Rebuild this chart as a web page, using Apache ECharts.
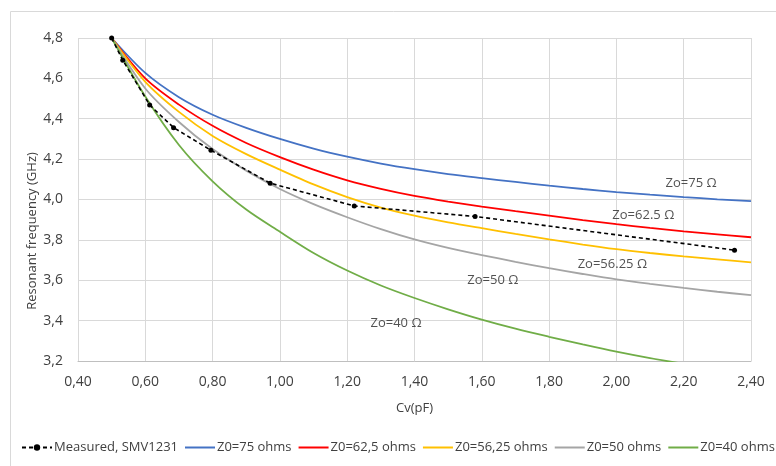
<!DOCTYPE html>
<html>
<head>
<meta charset="utf-8">
<script src="https://cdn.jsdelivr.net/npm/echarts@6/dist/echarts.min.js"></script>
<style>
  html, body { margin: 0; padding: 0; background: #fff; }
  #chart { width: 776px; height: 466px; }
</style>
</head>
<body>
<div id="chart"></div>
<script>
// Cv (pF) sample points for the model curves
const cvModel = [0.5, 0.6, 0.7, 0.8, 0.9, 1.0, 1.1, 1.2, 1.3, 1.4, 1.5, 1.6, 1.7, 1.8, 1.9, 2.0, 2.1, 2.2, 2.3, 2.4]
const z75 = [4.80, 4.627, 4.507, 4.42, 4.355, 4.30, 4.252, 4.212, 4.178, 4.150, 4.126, 4.106, 4.087, 4.069, 4.052, 4.037, 4.024, 4.012, 4.001, 3.992]
const z62 = [4.80, 4.60, 4.47, 4.365, 4.28, 4.21, 4.148, 4.095, 4.053, 4.018, 3.99, 3.965, 3.942, 3.92, 3.898, 3.878, 3.859, 3.842, 3.827, 3.813]
const z56 = [4.80, 4.583, 4.434, 4.315, 4.225, 4.148, 4.075, 4.012, 3.96, 3.92, 3.887, 3.858, 3.83, 3.803, 3.777, 3.754, 3.735, 3.718, 3.703, 3.689]
const z50 = [4.80, 4.55, 4.384, 4.25, 4.143, 4.052, 3.977, 3.912, 3.853, 3.802, 3.76, 3.725, 3.691, 3.66, 3.631, 3.604, 3.582, 3.562, 3.543, 3.526]
const cvZ40 = [0.5, 0.6, 0.7, 0.8, 0.9, 1.0, 1.1, 1.2, 1.3, 1.4, 1.5, 1.6, 1.7, 1.8, 1.9, 2.0, 2.1, 2.2]
const z40 = [4.80, 4.51, 4.27, 4.09, 3.95, 3.84, 3.735, 3.648, 3.574, 3.512, 3.456, 3.405, 3.36, 3.32, 3.282, 3.246, 3.214, 3.186]

// measured SMV1231
const cvMeas = [0.5, 0.533, 0.613, 0.684, 0.795, 0.971, 1.221, 1.58, 2.351]
const fMeas = [4.80, 4.69, 4.468, 4.356, 4.244, 4.081, 3.968, 3.916, 3.749]

// curve annotations
const noteText = ['Zo=75 Ω', 'Zo=62.5 Ω', 'Zo=56.25 Ω', 'Zo=50 Ω', 'Zo=40 Ω']
const noteX = [2.222, 2.08, 1.988, 1.633, 1.345]
const noteY = [4.081, 3.922, 3.68, 3.601, 3.388]

const font = "'Open Sans', 'Noto Sans', sans-serif"
const pair = (xs, ys) => xs.map((x, i) => [x, ys[i]])

const chart = echarts.init(document.getElementById('chart'))

function model(name, color, xs, ys) {
  return {
    name: name,
    type: 'line',
    smooth: 0.3,
    showSymbol: false,
    symbol: 'none',
    lineStyle: { color: color, width: 1.8 },
    itemStyle: { color: color },
    data: pair(xs, ys)
  }
}

const lineOnly = name => ({ name: name, itemStyle: { opacity: 0 } })

chart.setOption({
  animation: false,
  textStyle: { fontFamily: font },
  grid: { left: 78, right: 25, top: 38, bottom: 105 },
  graphic: [
    {
      type: 'rect',
      left: 8, top: 9,
      shape: { width: 800, height: 500 },
      style: { fill: 'none', stroke: '#d9d9d9', lineWidth: 1 },
      silent: true
    },
    {
      type: 'text',
      x: 32, y: 231,
      rotation: Math.PI / 2,
      style: {
        text: 'Resonant frequency (GHz)',
        font: '13px ' + font,
        fill: '#404040',
        align: 'center',
        verticalAlign: 'middle'
      }
    }
  ],
  legend: {
    left: 16,
    top: 436,
    width: 1200,
    itemWidth: 30,
    itemHeight: 8,
    itemGap: 6,
    textStyle: { fontSize: 13, color: '#404040', fontFamily: font, padding: [0, 0, 0, -3] },
    data: [
      'Measured, SMV1231',
      lineOnly('Z0=75 ohms'),
      lineOnly('Z0=62,5 ohms'),
      lineOnly('Z0=56,25 ohms'),
      lineOnly('Z0=50 ohms'),
      lineOnly('Z0=40 ohms')
    ]
  },
  xAxis: {
    type: 'value',
    min: 0.4,
    max: 2.4,
    interval: 0.2,
    name: 'Cv(pF)',
    nameLocation: 'middle',
    nameGap: 41,
    nameTextStyle: { fontSize: 13, color: '#404040' },
    axisLine: { show: true, lineStyle: { color: '#bfbfbf', width: 1 } },
    axisTick: { show: false },
    axisLabel: {
      margin: 14,
      fontSize: 14,
      color: '#404040',
      formatter: v => v.toFixed(2).replace('.', ',')
    },
    splitLine: { show: true, lineStyle: { color: '#d9d9d9', width: 1 } }
  },
  yAxis: {
    type: 'value',
    min: 3.2,
    max: 4.8,
    interval: 0.2,
    axisLine: { show: false },
    axisTick: { show: false },
    axisLabel: {
      margin: 15,
      fontSize: 14,
      color: '#404040',
      formatter: v => v.toFixed(1).replace('.', ',')
    },
    splitLine: { show: true, lineStyle: { color: '#d9d9d9', width: 1 } }
  },
  series: [
    {
      name: 'Measured, SMV1231',
      type: 'line',
      z: 5,
      symbol: 'circle',
      symbolSize: 5,
      lineStyle: { color: '#000', width: 1.6, type: [4, 3] },
      itemStyle: { color: '#000' },
      data: pair(cvMeas, fMeas)
    },
    model('Z0=75 ohms', '#4472C4', cvModel, z75),
    model('Z0=62,5 ohms', '#FF0000', cvModel, z62),
    model('Z0=56,25 ohms', '#FFC000', cvModel, z56),
    model('Z0=50 ohms', '#A5A5A5', cvModel, z50),
    model('Z0=40 ohms', '#70AD47', cvZ40, z40),
    {
      name: 'notes',
      type: 'scatter',
      symbolSize: 0,
      silent: true,
      label: {
        show: true,
        position: 'inside',
        fontSize: 13,
        color: '#262626',
        formatter: p => noteText[p.dataIndex]
      },
      data: pair(noteX, noteY)
    }
  ]
})
</script>
</body>
</html>
